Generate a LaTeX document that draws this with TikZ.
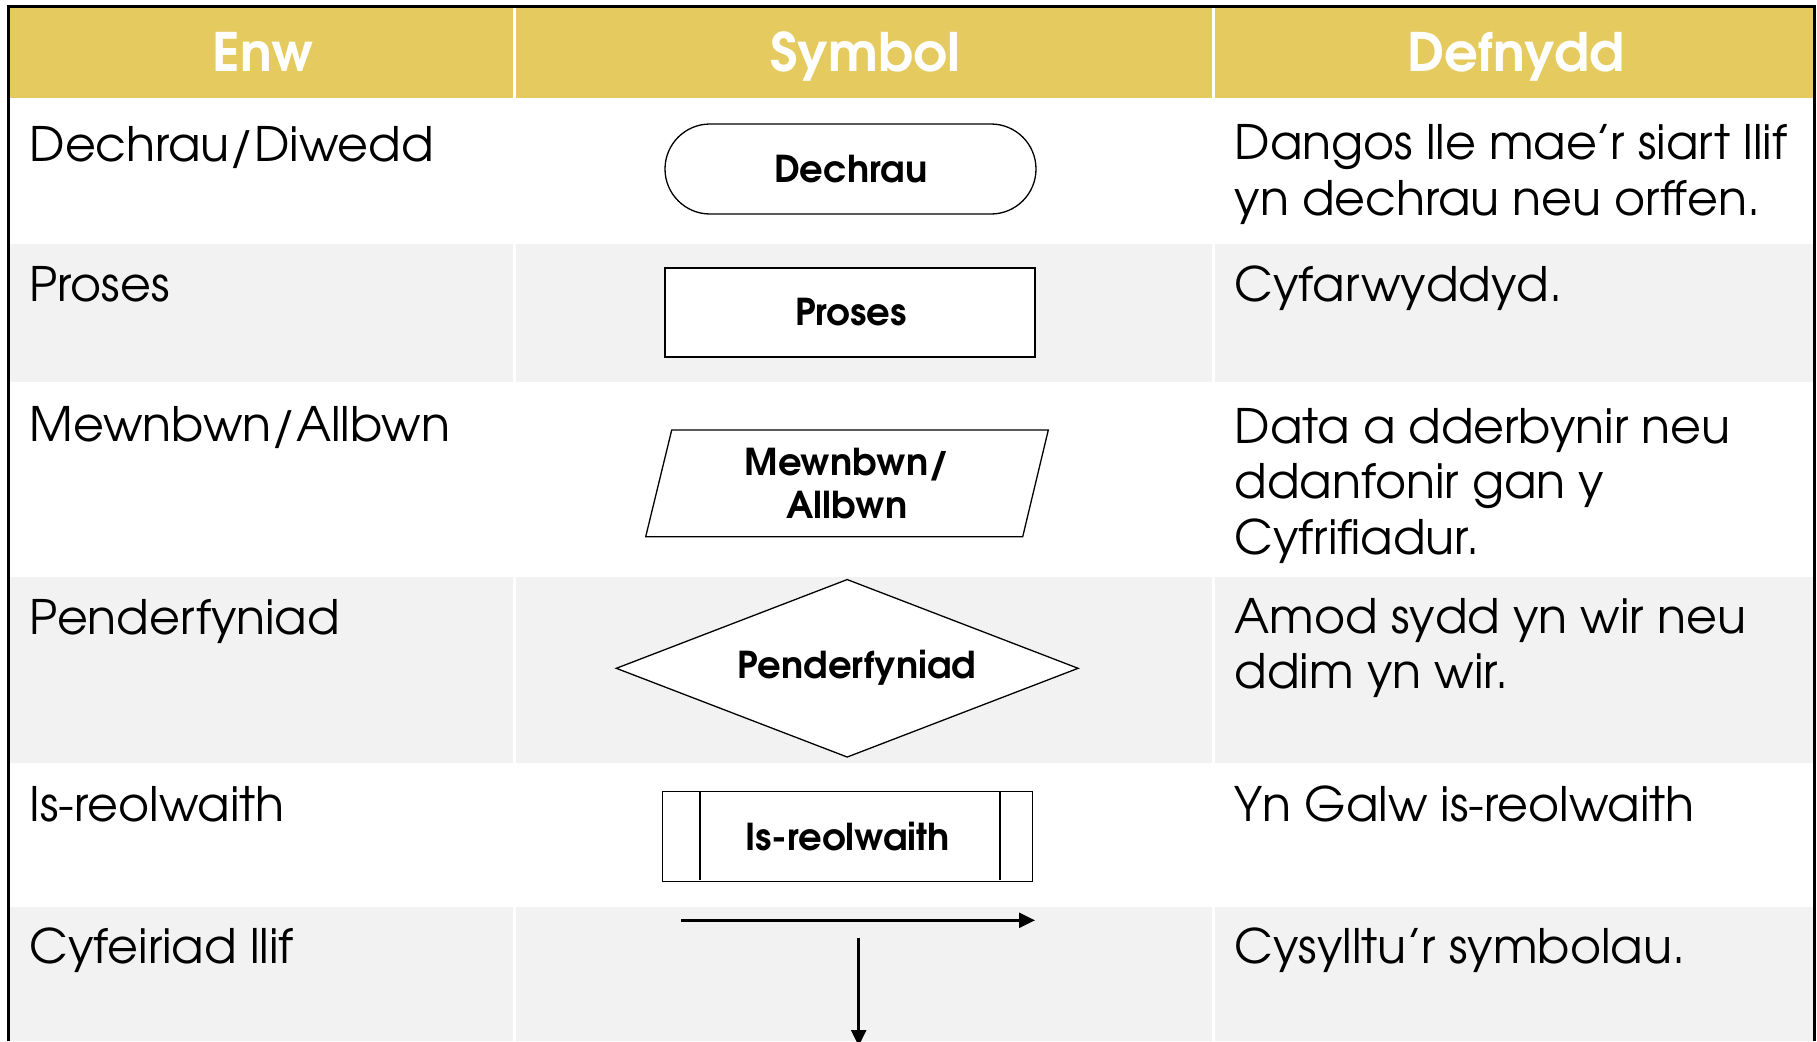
\documentclass[tikz,border=0pt]{standalone}
\usepackage{fontspec}
\setmainfont{texgyreadventor}[Extension=.otf,UprightFont=*-regular,BoldFont=*-bold]
\usetikzlibrary{shapes.geometric,shapes.misc,arrows.meta}
\definecolor{hdr}{HTML}{E5CB5F}
\definecolor{rowgray}{HTML}{F2F2F2}
\tikzset{
  celltext/.style={anchor=base west, inner sep=0pt, font=\fontsize{47.5}{55.5}\selectfont, align=left},
  headtext/.style={anchor=base, inner sep=0pt, text=white, font=\fontsize{53}{60}\selectfont\bfseries},
  symlabel/.style={inner sep=0pt, font=\fontsize{37}{43}\selectfont\bfseries, align=center},
  symshape/.style={draw=black, line width=1.3pt, fill=white},
  flowarrow/.style={line width=2.5pt, -{Triangle[length=16pt,width=15pt]}},
  divider/.style={white, line width=2.5pt},
}
\begin{document}
\begin{tikzpicture}[x=1pt,y=-1pt]
\useasboundingbox (0,0) rectangle (1817,1041);
\fill[white] (0,0) rectangle (1817,1041);
% header and rows
\fill[hdr] (9,8) rectangle (1815,97.5);
\fill[white] (9,97.5) rectangle (1815,244.3);
\fill[rowgray] (9,244.3) rectangle (1815,382.3);
\fill[white] (9,382.3) rectangle (1815,576.7);
\fill[rowgray] (9,576.7) rectangle (1815,762.7);
\fill[white] (9,762.7) rectangle (1815,906.7);
\fill[rowgray] (9,906.7) rectangle (1815,1041);
% column dividers
\draw[divider] (514.7,8) -- (514.7,1041);
\draw[divider] (1213.7,8) -- (1213.7,1041);
% outer border
\draw[black, line width=2.5pt] (8.5,1041) -- (8.5,6.7) -- (1814.6,6.7) -- (1814.6,1041);

% header texts
\node[headtext] (hEnw) at (263,71) {Enw};
\node[headtext] (hSym) at (865,71) {Symbol};
\node[headtext] (hDef) at (1516,71) {Defnydd};

% first column
\node[celltext] (n1) at (29.5,161.7) {Dechrau/Diwedd};
\node[celltext] (n2) at (29.5,301.7) {Proses};
\node[celltext] (n3) at (29.5,441.7) {Mewnbwn/Allbwn};
\node[celltext] (n4) at (29.5,634.3) {Penderfyniad};
\node[celltext] (n5) at (29.5,821.7) {Is-reolwaith};
\node[celltext] (n6) at (29.5,963) {Cyfeiriad llif};

% third column (multi-line nodes are anchored at the baseline of their last line)
\node[celltext] (d1) at (1234.5,215) {Dangos lle mae’r siart llif\\yn dechrau neu orffen.};
\node[celltext] (d2) at (1234.5,301.7) {Cyfarwyddyd.};
\node[celltext] (d3) at (1234.5,554) {Data a dderbynir neu\\ddanfonir gan y\\Cyfrifiadur.};
\node[celltext] (d4) at (1234.5,688.5) {Amod sydd yn wir neu\\ddim yn wir.};
\node[celltext] (d5) at (1234.5,821.7) {Yn Galw is-reolwaith};
\node[celltext] (d6) at (1234.5,963) {Cysylltu’r symbolau.};

% symbols
\node[symshape, rounded rectangle, minimum width=371pt, minimum height=90pt, inner sep=0pt] (term) at (850.5,169) {};
\node[symlabel] (termL) at (850.6,169) {Dechrau};

\node[symshape, rectangle, minimum width=370pt, minimum height=89pt, inner sep=0pt] (proc) at (850,312.5) {};
\node[symlabel] (procL) at (851,312.5) {Proses};

\filldraw[symshape] (671.7,430) -- (1048.3,430) -- (1022.7,536.7) -- (645.7,536.7) -- cycle;
\node[symlabel] (ioL) at (847,483.5) {Mewnbwn/\\Allbwn};

\node[symshape, diamond, aspect=2.6, inner sep=0pt, minimum width=462.3pt, minimum height=178pt] (dec) at (847.2,668.3) {};
\node[symlabel] (decL) at (857,668) {Penderfyniad};

\node[symshape, rectangle, minimum width=370pt, minimum height=90pt, inner sep=0pt] (sub) at (847.3,836.7) {};
\draw[line width=2pt] ([xshift=38.7pt]sub.north west) -- ([xshift=38.7pt,yshift=2pt]sub.south west);
\draw[line width=2pt] ([xshift=-32.6pt]sub.north east) -- ([xshift=-32.6pt,yshift=2pt]sub.south east);
\node[symlabel] (subL) at (847.6,836.7) {Is-reolwaith};

% flow arrows
\coordinate (hA) at (681,920.3);
\coordinate (hB) at (1035,920.3);
\draw[flowarrow] (hA) -- (hB);
\coordinate (vA) at (858.7,937.7);
\coordinate (vB) at (858.7,1046);
\draw[flowarrow] (vA) -- (vB);
\end{tikzpicture}
\end{document}
